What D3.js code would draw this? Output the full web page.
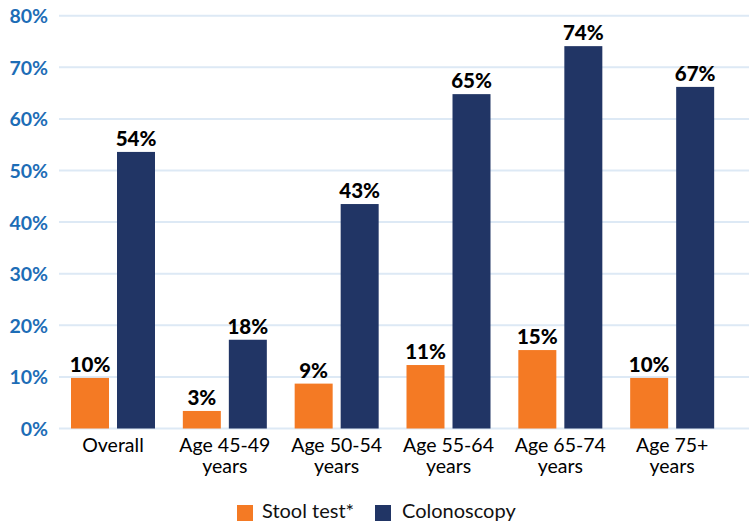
<!DOCTYPE html>
<html>
<head>
<meta charset="utf-8">
<script src="https://cdn.jsdelivr.net/npm/d3@7"></script>
<style>
  html, body { margin: 0; padding: 0; background: #fff; }
  svg { display: block; font-family: Lato, "Noto Sans", sans-serif; }
</style>
</head>
<body>
<svg id="chart" width="749" height="523"></svg>
<script>
const categories = [["Overall"], ["Age 45-49", "years"], ["Age 50-54", "years"], ["Age 55-64", "years"], ["Age 65-74", "years"], ["Age 75+", "years"]];
const seriesNames = ["Stool test*", "Colonoscopy"];
const stoolValues = [9.8, 3.4, 8.7, 12.3, 15.2, 9.8];
const colonoscopyValues = [53.6, 17.2, 43.5, 64.8, 74.1, 66.2];
const stoolLabels = ["10%", "3%", "9%", "11%", "15%", "10%"];
const colonoscopyLabels = ["54%", "18%", "43%", "65%", "74%", "67%"];
const yTicks = [0, 10, 20, 30, 40, 50, 60, 70, 80];
const colors = ["#f47a24", "#213565"];

const svg = d3.select("#chart");
const catKeys = categories.map(c => c.join(" "));

const x0 = d3.scaleBand().domain(catKeys).range([57, 728]).padding(0);
const x1 = d3.scaleBand().domain(seriesNames).range([14, 98]).paddingInner(0.174).paddingOuter(0);
const y = d3.scaleLinear().domain([0, 80]).range([428.5, 15.7]);

// gridlines
svg.append("g").selectAll("line").data(yTicks).join("line")
  .attr("x1", 59).attr("x2", 749)
  .attr("y1", d => y(d)).attr("y2", d => y(d))
  .attr("stroke", "#dde9f5").attr("stroke-width", 2);

// y axis labels
const yAxis = d3.axisLeft(y).tickValues(yTicks).tickFormat(d => d + "%").tickSize(0).tickPadding(0);
const yg = svg.append("g").attr("transform", "translate(48,0)").call(yAxis);
yg.select(".domain").remove();
yg.selectAll("text")
  .attr("fill", "#1d6db6")
  .attr("font-size", 19.5)
  .attr("font-weight", 700)
  .attr("font-family", "Lato, 'Noto Sans', sans-serif")
  .attr("dy", "0.36em");

const data = catKeys.map((k, i) => ({
  key: k,
  lines: categories[i],
  bars: [
    { s: seriesNames[0], v: stoolValues[i], label: stoolLabels[i] },
    { s: seriesNames[1], v: colonoscopyValues[i], label: colonoscopyLabels[i] }
  ]
}));

const groups = svg.append("g").selectAll("g").data(data).join("g")
  .attr("transform", d => `translate(${x0(d.key)},0)`);

groups.selectAll("rect").data(d => d.bars).join("rect")
  .attr("x", d => x1(d.s))
  .attr("width", x1.bandwidth())
  .attr("y", d => y(d.v))
  .attr("height", d => y(0) - y(d.v))
  .attr("fill", (d, i) => colors[i]);

groups.selectAll("text.val").data(d => d.bars).join("text")
  .attr("class", "val")
  .attr("x", d => x1(d.s) + x1.bandwidth() / 2)
  .attr("y", d => y(d.v) - 6)
  .attr("text-anchor", "middle")
  .attr("font-size", 20.5)
  .attr("font-weight", 900)
  .attr("fill", "#000")
  .text(d => d.label);

// x labels
groups.append("text")
  .attr("x", 56)
  .attr("y", 452)
  .attr("text-anchor", "middle")
  .attr("font-size", 19.5)
  .attr("font-weight", 400)
  .attr("fill", "#000")
  .selectAll("tspan").data(d => d.lines).join("tspan")
  .attr("x", 56)
  .attr("dy", (d, i) => i === 0 ? 0 : 21)
  .text(d => d);

// legend
const legendItems = [
  { name: seriesNames[0], color: colors[0], x: 237, tx: 262 },
  { name: seriesNames[1], color: colors[1], x: 375, tx: 402 }
];
const lg = svg.append("g").selectAll("g").data(legendItems).join("g");
lg.append("rect").attr("x", d => d.x).attr("y", 505).attr("width", 16).attr("height", 16).attr("fill", d => d.color);
lg.append("text").attr("x", d => d.tx).attr("y", 518).attr("font-size", 20).attr("fill", "#111").text(d => d.name);
</script>
</body>
</html>
